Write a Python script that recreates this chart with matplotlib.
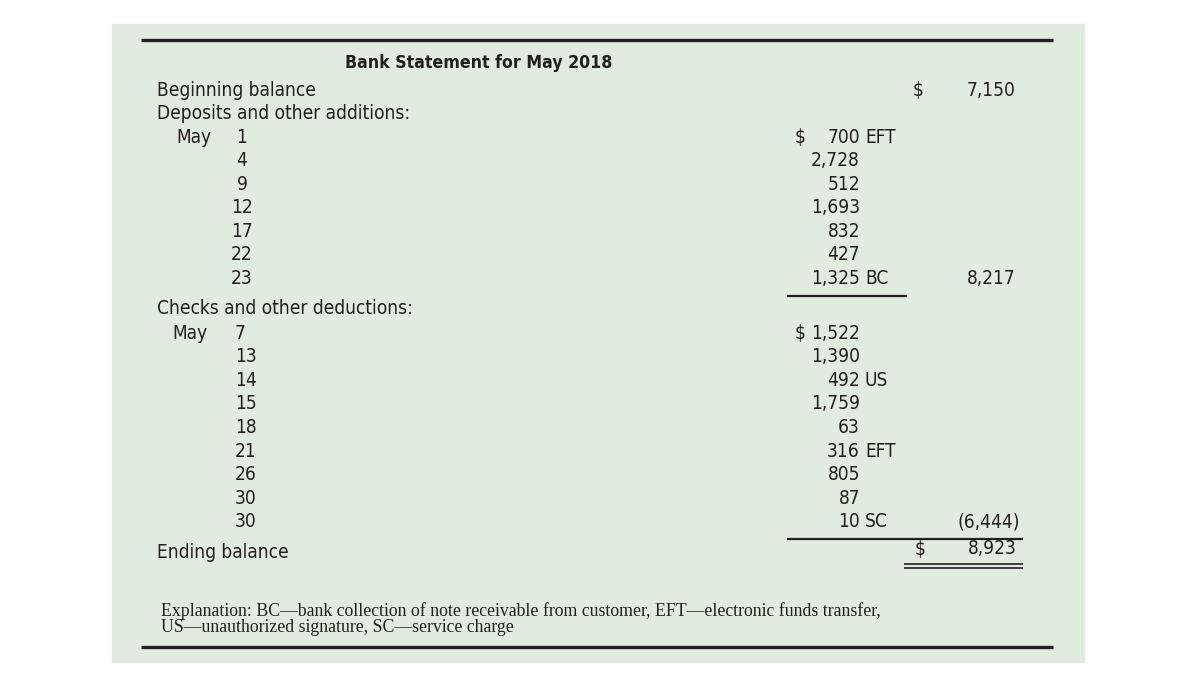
import matplotlib.pyplot as plt
import matplotlib.patches as mpatches

# --- Data ---
title = "Bank Statement for May 2018"
beginning_balance = 7150
deposit_days = [1, 4, 9, 12, 17, 22, 23]
deposit_amounts = [700, 2728, 512, 1693, 832, 427, 1325]
deposit_codes = ["EFT", "", "", "", "", "", "BC"]
check_days = [7, 13, 14, 15, 18, 21, 26, 30, 30]
check_amounts = [1522, 1390, 492, 1759, 63, 316, 805, 87, 10]
check_codes = ["", "", "US", "", "", "EFT", "", "", "SC"]
total_deposits = 8217
total_checks = 6444
ending_balance = 8923
note = ("Explanation: BC\u2014bank collection of note receivable from customer, "
        "EFT\u2014electronic funds transfer,\nUS\u2014unauthorized signature, "
        "SC\u2014service charge")

# --- Style ---
BG = "#e2ebdf"
INK = "#231f20"
SANS = ["DejaVu Sans"]
SERIF = ["Liberation Serif", "DejaVu Serif"]
FS = 13.7

fig = plt.figure(figsize=(11.9, 6.94), dpi=100)
ax = fig.add_axes([0, 0, 1, 1])
ax.set_xlim(0, 1190)
ax.set_ylim(694, 0)
ax.axis("off")

ax.add_patch(mpatches.Rectangle((112, 24), 972, 638, color=BG, zorder=0))


def txt(x, y, s, ha="left", **kw):
    kw.setdefault("fontsize", FS)
    kw.setdefault("family", SANS)
    kw.setdefault("fontstretch", "condensed")
    ax.text(x, y, s, ha=ha, va="center", color=INK, **kw)


def hline(y, x0, x1, lw=1.6):
    ax.plot([x0, x1], [y, y], color=INK, lw=lw, solid_capstyle="butt")


# rules
hline(40, 141, 1053, lw=2.4)
hline(647, 141, 1053, lw=2.4)

txt(479, 63, title, ha="center", fontweight="bold", fontsize=12.7)
txt(157, 90, "Beginning balance")
txt(913, 90, "$")
txt(1015, 90, f"{beginning_balance:,}", ha="right")

# deposits
txt(157, 113, "Deposits and other additions:")
txt(176, 137, "May")
step = 23.5
for i, (d, a, c) in enumerate(zip(deposit_days, deposit_amounts, deposit_codes)):
    y = 137 + i * step
    txt(242, y, str(d), ha="center")
    txt(860, y, f"{a:,}", ha="right")
    if c:
        txt(865, y, c)
    if i == 0:
        txt(795, y, "$")
y_last_dep = 137 + (len(deposit_days) - 1) * step
txt(1016, y_last_dep, f"{total_deposits:,}", ha="right")
hline(296, 787, 907)

# checks
txt(157, 308, "Checks and other deductions:")
txt(172, 333, "May")
step = 23.6
for i, (d, a, c) in enumerate(zip(check_days, check_amounts, check_codes)):
    y = 333 + i * step
    txt(235, y, str(d))
    txt(860, y, f"{a:,}", ha="right")
    if c:
        txt(865, y, c)
    if i == 0:
        txt(795, y, "$")
y_last_chk = 333 + (len(check_days) - 1) * step
txt(1020, y_last_chk, f"({total_checks:,})", ha="right")
hline(539, 787, 1023)

txt(157, 552, "Ending balance")
txt(915, 549, "$")
txt(1017, 549, f"{ending_balance:,}", ha="right")
hline(563.5, 904, 1023, lw=1.2)
hline(567.5, 904, 1023, lw=1.2)

ax.text(161, 619, note, ha="left", va="center", color=INK, family=SERIF,
        fontsize=12.8, linespacing=0.9)

fig.savefig("out.png", dpi=100, facecolor="white")
